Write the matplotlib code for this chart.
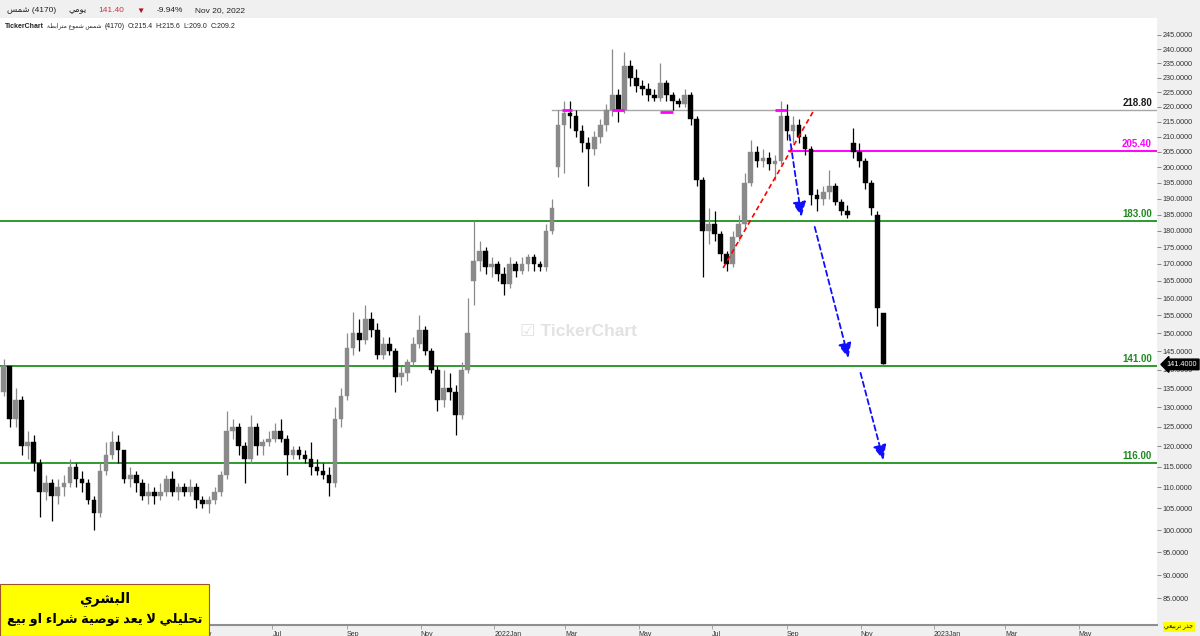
import numpy as np
import pandas as pd
import matplotlib
matplotlib.use('Agg')
import matplotlib.pyplot as plt
import matplotlib.dates as mdates
from matplotlib.patches import Rectangle
from matplotlib.transforms import blended_transform_factory

# one candle every 5 calendar days, last one is the Nov 20 2022 session
last_day = '2022-11-20'
opens = [134, 141, 127, 132, 120, 121, 116, 109, 111, 108, 110, 111, 115, 112, 111, 107, 104, 114, 118, 121,
         119, 112, 113, 111, 108, 109, 108, 109, 112, 109, 110, 109, 110, 107, 106, 107, 109, 113, 124, 125,
         120, 117, 125, 120, 121, 122, 124, 122, 118, 119, 118, 117, 115, 114, 113, 111, 127, 133, 146, 150,
         148, 154, 151, 144, 147, 145, 138, 139, 142, 147, 151, 145, 140, 132, 135, 134, 128, 140, 165, 171,
         174, 169, 170, 167, 164, 170, 168, 170, 172, 170, 169, 180, 200, 214, 218, 217, 212, 208, 206, 210,
         214, 219, 224, 219, 234, 230, 227, 226, 224, 223, 228, 224, 222, 221, 224, 216, 196, 180, 182, 179,
         173, 170, 178, 182, 195, 205, 202, 203, 201, 202, 217, 212, 214, 210, 206, 191, 190, 192, 194, 189,
         186, 208, 205, 202, 195, 185, 155.6]
highs = [143, 141, 135, 133, 124, 123, 117, 113, 112, 112, 113, 117, 116, 114, 112, 108, 116, 121, 124, 123,
         119, 115, 114, 112, 111, 110, 111, 113, 114, 111, 111, 112, 111, 108, 108, 110, 114, 129, 127, 126,
         121, 128, 126, 122, 124, 126, 127, 123, 120, 120, 119, 121, 117, 116, 115, 130, 135, 150, 156, 154,
         158, 156, 153, 149, 149, 146, 141, 143, 149, 155, 152, 146, 141, 140, 139, 136, 142, 160, 183, 177,
         175, 172, 171, 169, 172, 171, 172, 173, 173, 171, 182, 190, 219, 222, 222, 219, 214, 210, 212, 216,
         221, 240, 226, 239, 236, 233, 229, 228, 226, 235, 229, 225, 223, 226, 225, 217, 197, 187, 186, 180,
         174, 180, 185, 198, 209, 207, 206, 205, 204, 222, 221, 217, 216, 211, 207, 193, 194, 199, 195, 190,
         188, 213, 208, 203, 196, 186, 155.6]
lows = [133, 125, 125, 118, 117, 114, 103, 107, 102, 106, 108, 110, 110, 109, 106, 100, 103, 113, 117, 116,
        111, 110, 109, 107, 106, 106, 107, 108, 108, 107, 108, 108, 105, 105, 104, 106, 108, 112, 122, 118,
        111, 116, 118, 118, 120, 121, 121, 113, 117, 117, 116, 113, 113, 112, 108, 110, 125, 132, 144, 145,
        147, 149, 143, 143, 144, 134, 136, 137, 141, 146, 144, 139, 129, 130, 132, 123, 127, 139, 158, 168,
        167, 166, 165, 161, 163, 166, 167, 168, 168, 168, 168, 179, 197, 198, 213, 210, 205, 194, 204, 208,
        212, 217, 215, 218, 227, 225, 224, 222, 222, 222, 222, 219, 220, 220, 214, 194, 166, 176, 177, 171,
        168, 169, 177, 181, 194, 200, 200, 199, 196, 201, 209, 208, 208, 204, 188, 186, 188, 190, 188, 185,
        184, 203, 200, 193, 185, 152, 141.4]
closes = [141, 127, 132, 120, 121, 116, 109, 111, 108, 110, 111, 115, 112, 111, 107, 104, 114, 118, 121, 119,
          112, 113, 111, 108, 109, 108, 109, 112, 109, 110, 109, 110, 107, 106, 107, 109, 113, 124, 125, 120,
          117, 125, 120, 121, 122, 124, 122, 118, 119, 118, 117, 115, 114, 113, 111, 127, 133, 146, 150, 148,
          154, 151, 144, 147, 145, 138, 139, 142, 147, 151, 145, 140, 132, 135, 134, 128, 140, 150, 171, 174,
          169, 170, 167, 164, 170, 168, 170, 172, 170, 169, 180, 187, 214, 218, 217, 212, 208, 206, 210, 214,
          219, 224, 219, 234, 230, 227, 226, 224, 223, 228, 224, 222, 221, 224, 216, 196, 180, 182, 179, 173,
          170, 178, 182, 195, 205, 202, 203, 201, 202, 217, 212, 214, 210, 206, 191, 190, 192, 194, 189, 186,
          185, 205, 202, 195, 187, 157, 141.4]

levels = [218.8, 205.4, 183.0, 141.0, 116.0]
level_text = ['218.80', '205.40', '183.00', '141.00', '116.00']
level_start = ['2022-02-18', '2022-09-03', None, None, None]
touch_start = ['2022-02-26', '2022-04-09', '2022-05-19', '2022-08-22']
touch_end = ['2022-03-07', '2022-04-19', '2022-05-29', '2022-09-01']
touch_price = [218.8, 218.8, 218.2, 218.8]
trend_dates = ['2022-07-10', '2022-09-23']
trend_prices = [168.8, 218.6]
arrow_from = [('2022-09-03', 210.5), ('2022-09-24', 181.2), ('2022-11-01', 139.1)]
arrow_to = [('2022-09-13', 184.3), ('2022-10-22', 143.1), ('2022-11-20', 116.6)]
last_price = 141.40

# arabic: matplotlib does no shaping, so map to presentation forms and reverse
FORMS = {  # isolated, final, initial, medial
    'ء': (0xFE80, None, None, None), 'ا': (0xFE8D, 0xFE8E, None, None),
    'ب': (0xFE8F, 0xFE90, 0xFE91, 0xFE92), 'ة': (0xFE93, 0xFE94, None, None),
    'ت': (0xFE95, 0xFE96, 0xFE97, 0xFE98), 'ج': (0xFE9D, 0xFE9E, 0xFE9F, 0xFEA0),
    'ح': (0xFEA1, 0xFEA2, 0xFEA3, 0xFEA4), 'د': (0xFEA9, 0xFEAA, None, None),
    'ذ': (0xFEAB, 0xFEAC, None, None), 'ر': (0xFEAD, 0xFEAE, None, None),
    'س': (0xFEB1, 0xFEB2, 0xFEB3, 0xFEB4), 'ش': (0xFEB5, 0xFEB6, 0xFEB7, 0xFEB8),
    'ص': (0xFEB9, 0xFEBA, 0xFEBB, 0xFEBC), 'ط': (0xFEC1, 0xFEC2, 0xFEC3, 0xFEC4),
    'ع': (0xFEC9, 0xFECA, 0xFECB, 0xFECC), 'ل': (0xFEDD, 0xFEDE, 0xFEDF, 0xFEE0),
    'م': (0xFEE1, 0xFEE2, 0xFEE3, 0xFEE4), 'و': (0xFEED, 0xFEEE, None, None),
    'ي': (0xFEF1, 0xFEF2, 0xFEF3, 0xFEF4),
}


def ar(s):
    out = []
    i = 0
    while i < len(s):
        c = s[i]
        f = FORMS.get(c)
        if f is None:
            out.append(c)
            i += 1
            continue
        pf = FORMS.get(s[i - 1]) if i > 0 else None
        jp = pf is not None and pf[2] is not None and not (i > 1 and s[i - 2] == 'ل' and s[i - 1] == 'ا')
        if c == 'ل' and i + 1 < len(s) and s[i + 1] == 'ا':
            out.append(chr(0xFEFC if jp else 0xFEFB))
            i += 2
            continue
        nf = FORMS.get(s[i + 1]) if i + 1 < len(s) else None
        jn = f[2] is not None and nf is not None
        if jp and jn:
            out.append(chr(f[3]))
        elif jp:
            out.append(chr(f[1]))
        elif jn:
            out.append(chr(f[2]))
        else:
            out.append(chr(f[0]))
        i += 1
    return ''.join(reversed(out))


plt.rcParams['font.family'] = ['Liberation Sans', 'DejaVu Sans']

W, H = 1200, 636
fig = plt.figure(figsize=(W / 100, H / 100), dpi=100, facecolor='#f0f0f0')
ax = fig.add_axes([0, 11 / H, 1157 / W, (625 - 18) / H], facecolor='white')
ax.set_yscale('function', functions=(lambda v: np.sqrt(np.clip(v, 0, None)), np.square))

d = lambda s: mdates.date2num(pd.Timestamp(s))
dates = pd.date_range(end=last_day, periods=len(closes), freq='5D')
x = mdates.date2num(dates)
o, hi, lo, c = (np.array(a, dtype=float) for a in (opens, highs, lows, closes))
col = np.where(c >= o, '#8a8a8a', '#000000')
ax.vlines(x, lo, hi, colors=col, lw=0.9, zorder=3)
ax.bar(x, np.maximum(np.abs(c - o), 0.5), bottom=np.minimum(o, c), width=3.9,
       color=col, edgecolor=col, lw=0.3, zorder=4)

x0, x1 = d('2020-11-17'), d('2023-07-05')
ax.set_xlim(x0, x1)
ax.set_ylim(79.5, 251.1)

trans = blended_transform_factory(ax.transAxes, ax.transData)
line_cols = ['#a6a6a6', '#ff00ff', '#2e9a2e', '#2e9a2e', '#2e9a2e']
text_cols = ['#1a1a1a', '#ff00ff', '#1e8a1e', '#1e8a1e', '#1e8a1e']
for lv, txt, st, lc, tc in zip(levels, level_text, level_start, line_cols, text_cols):
    xs = d(st) if st else x0
    ax.plot([xs, x1], [lv, lv], color=lc, lw=1.0 if lc == '#a6a6a6' else 1.4, zorder=2)
    ax.annotate(txt, (1152 / 1157, lv), xycoords=trans, xytext=(0, 1.5), textcoords='offset points',
                ha='right', va='bottom', fontsize=7, fontweight='bold', color=tc)

for a, b, p in zip(touch_start, touch_end, touch_price):
    ax.plot([d(a), d(b)], [p, p], color='#ff00ff', lw=2, zorder=5, solid_capstyle='butt')

ax.plot([d(t) for t in trend_dates], trend_prices, color='red', lw=1.2, ls=(0, (3, 2)), zorder=5)

for (da, pa), (db, pb) in zip(arrow_from, arrow_to):
    ax.annotate('', xy=(d(db), pb), xytext=(d(da), pa),
                arrowprops=dict(arrowstyle='-|>,head_length=0.9,head_width=0.4', color='#1010ff',
                                lw=1.3, ls=(0, (3, 2)), shrinkA=0, shrinkB=0), zorder=6)

# watermark
ax.text(0.5, 0.483, '☑ TickerChart', transform=ax.transAxes, ha='center', va='center',
        fontsize=12.5, fontweight='bold', color='#e2e2e2', zorder=1)

# right price axis
ax.yaxis.tick_right()
ax.set_yticks(np.arange(85, 250, 5))
ax.yaxis.set_major_formatter(matplotlib.ticker.FormatStrFormatter('%.4f'))
ax.tick_params(axis='y', which='both', length=3, width=0.6, color='#777777', pad=1,
               labelsize=5.2, labelcolor='#333333')
ax.yaxis.set_minor_locator(matplotlib.ticker.NullLocator())
ax.annotate(f'{last_price:.4f}', (1.0, last_price), xycoords=trans, xytext=(7, 0),
            textcoords='offset points', ha='left', va='center', fontsize=5.2, color='white',
            bbox=dict(boxstyle='larrow,pad=0.25', fc='black', ec='black'), annotation_clip=False)

# date axis, no label for the month that is cut at the right edge
month_starts = [t for t in pd.date_range('2020-12-01', '2023-06-01', freq='MS') if t.month % 2 == 1]
ax.set_xticks([d(t) for t in month_starts])
ax.set_xticklabels([f"{t.year}Jan" if t.month == 1 else t.strftime('%b') for t in month_starts],
                   ha='left')
ax.set_xlim(x0, x1)
ax.tick_params(axis='x', length=3, width=0.6, color='#999999', pad=1, labelsize=5,
               labelcolor='#333333')
for s in ('top', 'left', 'right'):
    ax.spines[s].set_visible(False)
ax.spines['bottom'].set_color('#8f8f8f')
ax.spines['bottom'].set_linewidth(1.5)

# header, pieces set one after another
fy = lambda y: 1 - y / H
renderer = fig.canvas.get_renderer()


def chain(xpix, ypix, parts, gap):
    for txt, kw in parts:
        t = fig.text(xpix / W, fy(ypix), txt, va='center', **kw)
        xpix = t.get_window_extent(renderer).x1 + gap


chain(7, 11, [(ar('شمس') + ' (4170)', dict(fontsize=6, color='#222222')),
              (ar('يومي'), dict(fontsize=6, color='#222222')),
              ('141.40', dict(fontsize=6, color='#c8334a')),
              ('▼', dict(fontsize=6, color='#b0101e')),
              ('-9.94%', dict(fontsize=6, color='#222222')),
              ('Nov 20, 2022', dict(fontsize=6, color='#222222'))], 12)
chain(5, 26, [('TickerChart', dict(fontsize=5, fontweight='bold', color='#222222')),
              (ar('شمس شموع مترابطة'), dict(fontsize=4.3, color='#222222')),
              ('(4170)', dict(fontsize=5, color='#222222')),
              ('O:215.4', dict(fontsize=5, color='#222222')),
              ('H:215.6', dict(fontsize=5, color='#222222')),
              ('L:209.0', dict(fontsize=5, color='#222222')),
              ('C:209.2', dict(fontsize=5, color='#222222'))], 3)

# disclaimer box bottom-left
fig.add_artist(Rectangle((0, 0), 209 / W, 52 / H, transform=fig.transFigure, fc='#ffff00',
                         ec='#a0522d', lw=0.8, zorder=10))
fig.text(105 / W, fy(599), ar('البشري'), ha='center', va='center', fontsize=10,
         fontweight='bold', zorder=11)
fig.text(105 / W, fy(620), ar('تحليلي لا يعد توصية شراء او بيع'), ha='center', va='center',
         fontsize=9.3, fontweight='bold', zorder=11)

fig.text(1179 / W, fy(627), ar('جذر تربيعي'), ha='center', va='center', fontsize=4.5,
         bbox=dict(boxstyle='square,pad=0.3', fc='#ffff00', ec='none'))

fig.savefig('out.png', dpi=100, facecolor=fig.get_facecolor())
